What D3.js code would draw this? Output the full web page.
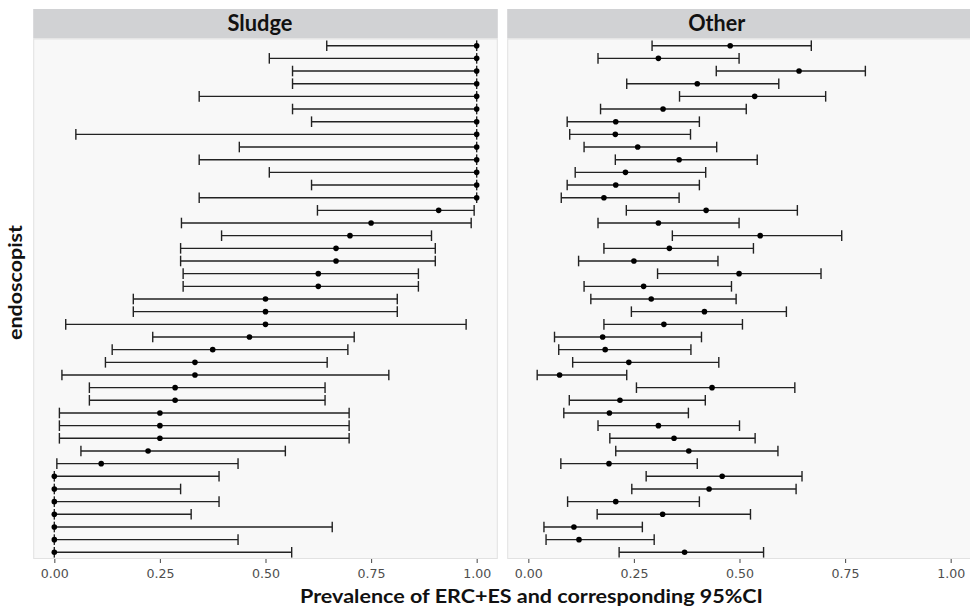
<!DOCTYPE html>
<html>
<head>
<meta charset="utf-8">
<script src="https://cdn.jsdelivr.net/npm/d3@7"></script>
<style>
  html, body { margin: 0; padding: 0; background: #ffffff; }
  svg { display: block; }
</style>
</head>
<body>
<svg id="chart" width="970" height="609"></svg>
<script>
// Endoscopists, listed from the top row of the plot to the bottom row
const endoscopists = [
  "E41","E40","E39","E38","E37","E36","E35","E34","E33","E32","E31",
  "E30","E29","E28","E27","E26","E25","E24","E23","E22","E21","E20",
  "E19","E18","E17","E16","E15","E14","E13","E12","E11","E10","E09",
  "E08","E07","E06","E05","E04","E03","E02","E01"
];

// Sludge: prevalence estimate and 95% CI bounds per endoscopist
const sludgeEst = [
  1, 1, 1, 1, 1, 1, 1, 1, 1, 1, 1, 1, 1,
  0.910, 0.750, 0.700, 0.667, 0.667, 0.625, 0.625, 0.500, 0.500, 0.500,
  0.462, 0.375, 0.333, 0.333, 0.286, 0.286, 0.250, 0.250, 0.250, 0.222,
  0.111, 0, 0, 0, 0, 0, 0, 0
];
const sludgeLo = [
  0.645, 0.509, 0.564, 0.564, 0.343, 0.564, 0.609, 0.051, 0.438, 0.343, 0.509, 0.609, 0.343,
  0.623, 0.301, 0.396, 0.299, 0.299, 0.305, 0.305, 0.187, 0.187, 0.027,
  0.233, 0.137, 0.121, 0.018, 0.083, 0.083, 0.012, 0.012, 0.012, 0.063,
  0.006, 0, 0, 0, 0, 0, 0, 0
];
const sludgeHi = [
  1, 1, 1, 1, 1, 1, 1, 1, 1, 1, 1, 1, 1,
  0.994, 0.987, 0.893, 0.902, 0.902, 0.862, 0.862, 0.812, 0.812, 0.975,
  0.710, 0.695, 0.646, 0.792, 0.641, 0.641, 0.698, 0.698, 0.698, 0.547,
  0.435, 0.390, 0.299, 0.390, 0.324, 0.658, 0.435, 0.562
];

// Other findings: prevalence estimate and 95% CI bounds per endoscopist
const otherEst = [
  0.478, 0.308, 0.641, 0.400, 0.536, 0.319, 0.207, 0.206, 0.259, 0.357, 0.230,
  0.207, 0.179, 0.421, 0.308, 0.549, 0.334, 0.250, 0.499, 0.273, 0.291, 0.417,
  0.321, 0.176, 0.182, 0.238, 0.074, 0.435, 0.217, 0.192, 0.308, 0.345, 0.380,
  0.191, 0.459, 0.428, 0.207, 0.318, 0.108, 0.120, 0.370
];
const otherLo = [
  0.293, 0.165, 0.445, 0.233, 0.358, 0.171, 0.092, 0.098, 0.132, 0.206, 0.111,
  0.092, 0.078, 0.232, 0.165, 0.341, 0.179, 0.119, 0.306, 0.132, 0.148, 0.244,
  0.179, 0.062, 0.072, 0.105, 0.021, 0.256, 0.097, 0.084, 0.165, 0.193, 0.207,
  0.077, 0.279, 0.245, 0.093, 0.163, 0.037, 0.042, 0.215
];
const otherHi = [
  0.670, 0.499, 0.798, 0.593, 0.704, 0.516, 0.405, 0.384, 0.446, 0.542, 0.420,
  0.405, 0.357, 0.637, 0.499, 0.742, 0.533, 0.449, 0.693, 0.481, 0.492, 0.611,
  0.507, 0.410, 0.385, 0.451, 0.233, 0.631, 0.419, 0.379, 0.500, 0.537, 0.591,
  0.400, 0.648, 0.634, 0.405, 0.526, 0.270, 0.298, 0.557
];

const facetNames = ["Sludge", "Other"];
const xTicks = [0, 0.25, 0.5, 0.75, 1];
const xTitle = "Prevalence of ERC+ES and corresponding 95%CI";
const yTitle = "endoscopist";

const facets = [
  { name: facetNames[0], est: sludgeEst, lo: sludgeLo, hi: sludgeHi, left: 33.2, right: 497.8, labelX: 260, labelW: 65 },
  { name: facetNames[1], est: otherEst, lo: otherLo, hi: otherHi, left: 507.2, right: 971.8, labelX: 716.7, labelW: 57 }
];

const svg = d3.select("#chart");
const stripTop = 9, stripBottom = 38.5, panelBottom = 559;

const y = d3.scalePoint()
  .domain(endoscopists)
  .range([38.1, 559.9])
  .padding(0.6);

const titleFont = "Lato, 'Open Sans', sans-serif";

facets.forEach(f => {
  const x = d3.scaleLinear().domain([-0.05, 1.05]).range([f.left, f.right]);
  const g = svg.append("g");

  // strip
  g.append("rect")
    .attr("x", f.left).attr("y", stripTop)
    .attr("width", f.right - f.left).attr("height", stripBottom - stripTop)
    .attr("fill", "#d1d2d4");
  g.append("text")
    .attr("x", f.labelX).attr("y", 31)
    .attr("text-anchor", "middle")
    .attr("font-family", titleFont)
    .attr("font-weight", "bold")
    .attr("font-size", 22)
    .attr("textLength", f.labelW)
    .attr("lengthAdjust", "spacingAndGlyphs")
    .attr("fill", "#111")
    .text(f.name);

  // panel
  g.append("rect")
    .attr("x", f.left + 0.5).attr("y", stripBottom + 0.5)
    .attr("width", f.right - f.left - 1).attr("height", panelBottom - stripBottom - 1)
    .attr("fill", "#f8f8f8")
    .attr("stroke", "#e2e2e2")
    .attr("stroke-width", 1);

  // x axis
  const axis = d3.axisBottom(x)
    .tickValues(xTicks)
    .tickFormat(d3.format(".2f"))
    .tickSize(4)
    .tickPadding(4);
  const ax = g.append("g")
    .attr("transform", `translate(0,${panelBottom})`)
    .call(axis);
  ax.select(".domain").remove();
  ax.selectAll(".tick line").attr("stroke", "#555").attr("stroke-width", 1.1);
  ax.selectAll(".tick text")
    .attr("font-family", "'DejaVu Sans', sans-serif")
    .attr("font-size", 12.6)
    .attr("fill", "#4d4d4d")
    .attr("dy", null)
    .attr("y", 19);

  const rows = endoscopists.map((id, i) => ({ id, est: f.est[i], lo: f.lo[i], hi: f.hi[i] }));
  const capH = 5.3;
  const bars = g.append("g").attr("stroke", "#222").attr("stroke-width", 1.4);

  bars.selectAll("line.ci").data(rows).join("line")
    .attr("class", "ci")
    .attr("x1", d => x(d.lo)).attr("x2", d => x(d.hi))
    .attr("y1", d => y(d.id)).attr("y2", d => y(d.id));
  bars.selectAll("line.lo").data(rows).join("line")
    .attr("class", "lo")
    .attr("x1", d => x(d.lo)).attr("x2", d => x(d.lo))
    .attr("y1", d => y(d.id) - capH).attr("y2", d => y(d.id) + capH);
  bars.selectAll("line.hi").data(rows).join("line")
    .attr("class", "hi")
    .attr("x1", d => x(d.hi)).attr("x2", d => x(d.hi))
    .attr("y1", d => y(d.id) - capH).attr("y2", d => y(d.id) + capH);

  g.append("g").selectAll("circle").data(rows).join("circle")
    .attr("cx", d => x(d.est))
    .attr("cy", d => y(d.id))
    .attr("r", 2.8)
    .attr("fill", "#000");
});

// axis titles
svg.append("text")
  .attr("x", 531.5).attr("y", 603)
  .attr("text-anchor", "middle")
  .attr("font-family", titleFont)
  .attr("font-weight", "bold")
  .attr("font-size", 18.5)
  .attr("textLength", 463)
  .attr("lengthAdjust", "spacingAndGlyphs")
  .attr("fill", "#111")
  .text(xTitle);

svg.append("text")
  .attr("transform", "translate(22,282.5) rotate(-90)")
  .attr("text-anchor", "middle")
  .attr("font-family", titleFont)
  .attr("font-weight", "bold")
  .attr("font-size", 19)
  .attr("textLength", 115)
  .attr("lengthAdjust", "spacingAndGlyphs")
  .attr("fill", "#111")
  .text(yTitle);
</script>
</body>
</html>
